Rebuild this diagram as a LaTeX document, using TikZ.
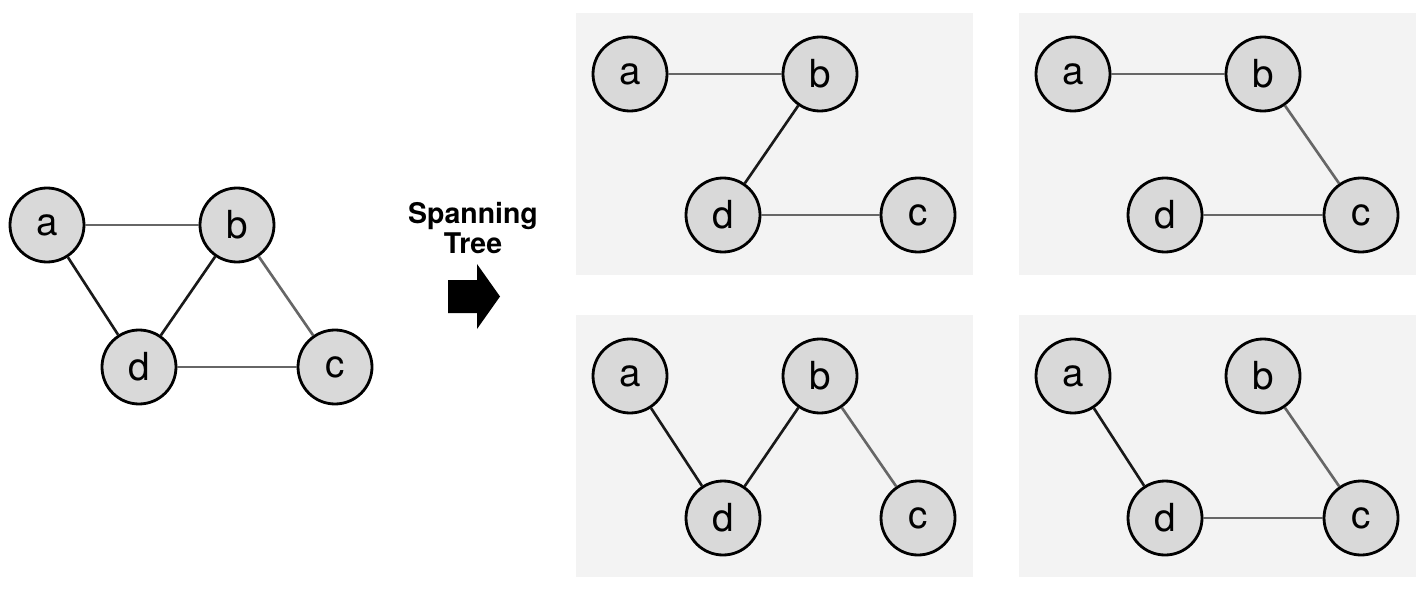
\documentclass[tikz,border=0pt]{standalone}
\usepackage{fontspec}
\setmainfont{TeX Gyre Heros}
\definecolor{vfill}{HTML}{D9D9D9}
\definecolor{panelbg}{HTML}{F3F3F3}
\definecolor{edgegray}{HTML}{666666}
\begin{document}
\begin{tikzpicture}[font=\fontsize{11}{13}\selectfont,
  vx/.style={circle, draw=black, line width=0.8pt, fill=vfill, minimum size=0.74cm, inner sep=0pt},
  eb/.style={draw=black!90, line width=0.75pt},
  eg/.style={draw=edgegray, line width=0.75pt},
  panel/.style={fill=panelbg, draw=none}]
\useasboundingbox (0,0) rectangle (14.24,-5.89);
% original graph
\node[vx] (a) at (0.47,-2.25) {a};
\node[vx] (b) at (2.37,-2.25) {b};
\node[vx] (d) at (1.39,-3.67) {d};
\node[vx] (c) at (3.35,-3.67) {c};
\draw[eg] (a) -- (b);
\draw[eb] (a) -- (d);
\draw[eb] (b) -- (d);
\draw[eg] (b) -- (c);
\draw[eg] (d) -- (c);
% label and arrow
\node[font=\bfseries\fontsize{8.1}{8.6}\selectfont, align=center] (lbl) at (4.73,-2.28) {Spanning\\Tree};
\fill (4.48,-2.80) -- (4.77,-2.80) -- (4.77,-2.64) -- (5.00,-2.965) -- (4.77,-3.29) -- (4.77,-3.13) -- (4.48,-3.13) -- cycle;
% spanning trees
\fill[panel] (5.76,-0.13) rectangle (9.73,-2.75);
\fill[panel] (10.19,-0.13) rectangle (14.16,-2.75);
\fill[panel] (5.76,-3.15) rectangle (9.73,-5.77);
\fill[panel] (10.19,-3.15) rectangle (14.16,-5.77);
% tree 1
\node[vx] (a1) at (6.30,-0.74) {a};
\node[vx] (b1) at (8.20,-0.74) {b};
\node[vx] (d1) at (7.23,-2.15) {d};
\node[vx] (c1) at (9.18,-2.15) {c};
\draw[eg] (a1) -- (b1);
\draw[eb] (b1) -- (d1);
\draw[eg] (d1) -- (c1);
% tree 2
\node[vx] (a2) at (10.73,-0.74) {a};
\node[vx] (b2) at (12.63,-0.74) {b};
\node[vx] (d2) at (11.65,-2.15) {d};
\node[vx] (c2) at (13.61,-2.15) {c};
\draw[eg] (a2) -- (b2);
\draw[eg] (b2) -- (c2);
\draw[eg] (d2) -- (c2);
% tree 3
\node[vx] (a3) at (6.30,-3.76) {a};
\node[vx] (b3) at (8.20,-3.76) {b};
\node[vx] (d3) at (7.23,-5.18) {d};
\node[vx] (c3) at (9.18,-5.18) {c};
\draw[eb] (a3) -- (d3);
\draw[eb] (b3) -- (d3);
\draw[eg] (b3) -- (c3);
% tree 4
\node[vx] (a4) at (10.73,-3.76) {a};
\node[vx] (b4) at (12.63,-3.76) {b};
\node[vx] (d4) at (11.65,-5.18) {d};
\node[vx] (c4) at (13.61,-5.18) {c};
\draw[eb] (a4) -- (d4);
\draw[eg] (b4) -- (c4);
\draw[eg] (d4) -- (c4);
\end{tikzpicture}
\end{document}
